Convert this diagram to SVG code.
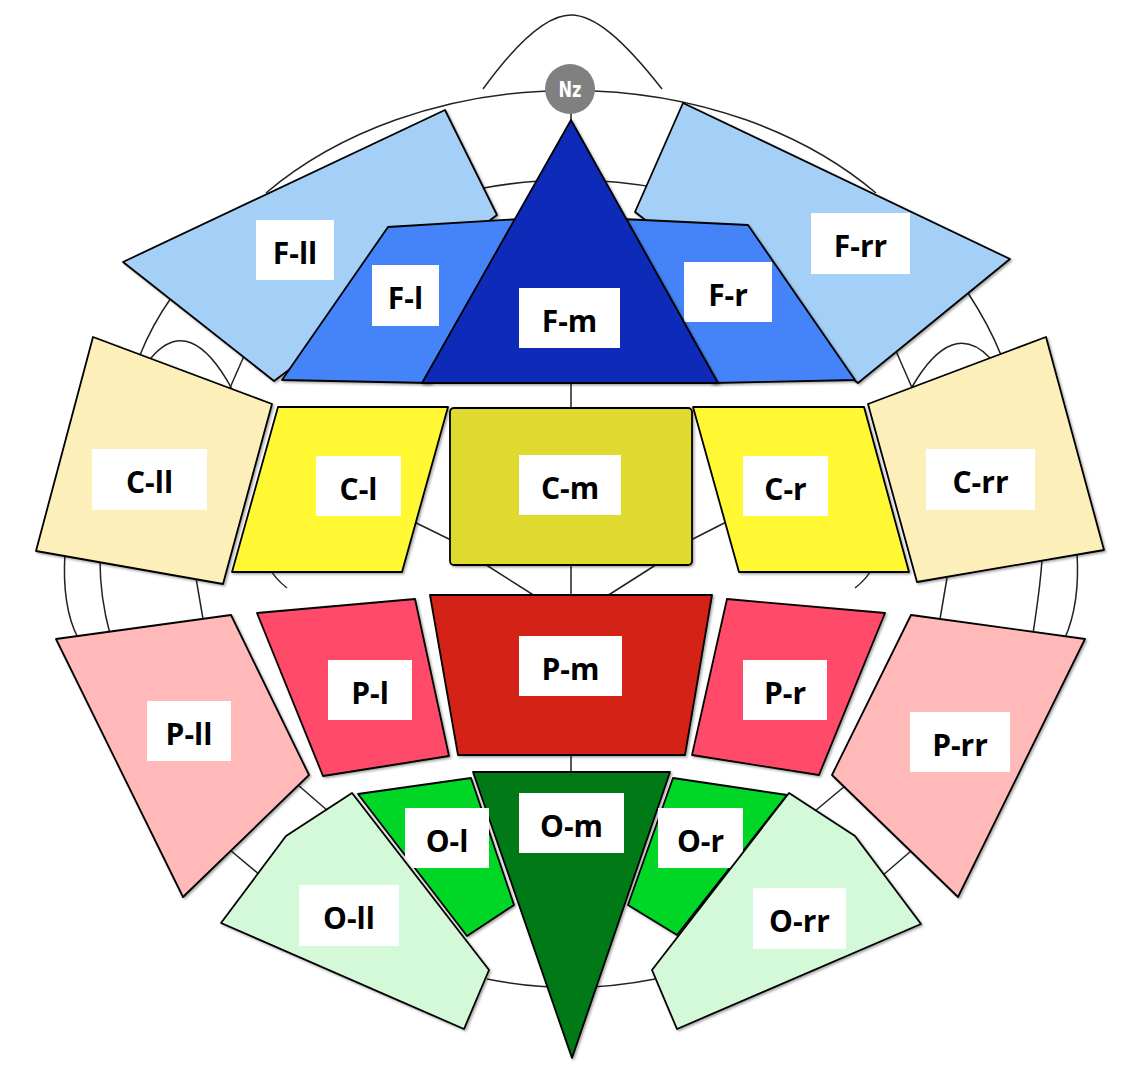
<svg xmlns="http://www.w3.org/2000/svg" width="1122" height="1073" viewBox="0 0 1122 1073">
<defs>
<filter id="sh" x="-5%" y="-5%" width="112%" height="112%">
<feDropShadow dx="1.5" dy="1.5" stdDeviation="1" flood-color="#000" flood-opacity="0.35"/>
</filter>
<style>
.ln{fill:none;stroke:#222;stroke-width:1.5}
.sh{stroke:#000;stroke-width:1.8;stroke-linejoin:round;filter:url(#sh)}
.lb{fill:#fff}
.tx{font-family:"Open Sans","Liberation Sans",sans-serif;font-weight:bold;font-size:30px;fill:#000;text-anchor:middle}
.fll{fill:#A4D0F7}.fl{fill:#4584F8}.fm{fill:#0B2BB8}
.cll{fill:#FCEFB9}.cl{fill:#FFF833}.cm{fill:#E0DA2E}
.pll{fill:#FFB9B9}.pl{fill:#FF4C69}.pm{fill:#D42317}
.oll{fill:#D4F9D8}.ol{fill:#00D627}.om{fill:#007A16}
</style>
</defs>
<rect width="1122" height="1073" fill="#fff"/>
<g id="head-outline">
<path class="ln" d="M483,89 C520,38 548,15 571,15 C594,15 622,38 662,89"/>
<path class="ln" d="M266,193 A405,300 0 0 1 876,193"/>
<path class="ln" d="M478,189 Q571,171 664,189"/>
<path class="ln" d="M571,110 V1000"/>
<path class="ln" d="M140,355 Q152,325 171,298"/>
<path class="ln" d="M1001,355 Q989,325 968,293"/>
<path class="ln" d="M229,390 L244,356"/>
<path class="ln" d="M913,390 L896,351"/>
<path class="ln" d="M151,358 Q190,312 232,389"/>
<path class="ln" d="M912,387 Q952,318 990,358"/>
<path class="ln" d="M400,515 L455,542"/>
<path class="ln" d="M687,542 L740,515"/>
<path class="ln" d="M480,561 L535,596"/>
<path class="ln" d="M662,561 L607,596"/>
<path class="ln" d="M266,563 Q275,579 287,588"/>
<path class="ln" d="M876,563 Q867,579 855,588"/>
<path class="ln" d="M65,553 C63,585 66,615 78,638"/>
<path class="ln" d="M100,560 C100,590 104,612 110,634"/>
<path class="ln" d="M196,578 C199,595 201,607 203,619"/>
<path class="ln" d="M1077,553 C1079,585 1075,615 1065,638"/>
<path class="ln" d="M1042,560 C1040,590 1036,612 1033,634"/>
<path class="ln" d="M947,578 C944,595 942,607 940,619"/>
<path class="ln" d="M298,785 L328,811"/>
<path class="ln" d="M230,850 L260,875"/>
<path class="ln" d="M845,786 L815,811"/>
<path class="ln" d="M911,851 L882,876"/>
<path class="ln" d="M487,979 Q571,996 655,979"/>
</g>
<g id="Nz">
<circle cx="570" cy="89" r="25" fill="#808080"/>
<text x="570" y="97" font-family="DejaVu Sans Condensed,DejaVu Sans,sans-serif" font-weight="bold" font-size="22" fill="#fff" text-anchor="middle" textLength="23" lengthAdjust="spacingAndGlyphs">Nz</text>
</g>
<g id="F-ll"><polygon class="sh fll" points="123,262 445,110 497,215 274,381"/><rect class="lb" x="256" y="220" width="78" height="60"/><text class="tx" x="295" y="264">F-ll</text></g>
<g id="F-rr"><polygon class="sh fll" points="635,212 683,103 1010,259 858,383"/><rect class="lb" x="811" y="213" width="99" height="61"/><text class="tx" x="860.5" y="257">F-rr</text></g>
<g id="F-l"><polygon class="sh fl" points="388,227 520,219 430,383 282,380"/><rect class="lb" x="372" y="265" width="67" height="61"/><text class="tx" x="405.5" y="309">F-l</text></g>
<g id="F-r"><polygon class="sh fl" points="622,219 748,225 855,380 712,383"/><rect class="lb" x="684" y="262" width="88" height="60"/><text class="tx" x="728" y="306">F-r</text></g>
<g id="F-m"><polygon class="sh fm" points="571,120 718,383 422,383"/><rect class="lb" x="519" y="288" width="101" height="60"/><text class="tx" x="569.5" y="332">F-m</text></g>
<g id="C-ll"><polygon class="sh cll" points="93,337 272,404 223,584 36,551"/><rect class="lb" x="92" y="449" width="115" height="61"/><text class="tx" x="149.5" y="493">C-ll</text></g>
<g id="C-rr"><polygon class="sh cll" points="868,404 1046,337 1104,550 917,582"/><rect class="lb" x="926" y="449" width="109" height="61"/><text class="tx" x="980.5" y="493">C-rr</text></g>
<g id="C-l"><polygon class="sh cl" points="278,407 448,407 402,572 232,572"/><rect class="lb" x="316" y="456" width="85" height="60"/><text class="tx" x="358.5" y="500">C-l</text></g>
<g id="C-r"><polygon class="sh cl" points="693,407 864,407 909,572 739,572"/><rect class="lb" x="743" y="456" width="85" height="60"/><text class="tx" x="785.5" y="500">C-r</text></g>
<g id="C-m"><rect class="sh cm" x="450" y="408" width="242" height="157" rx="4"/><rect class="lb" x="519" y="455" width="102" height="60"/><text class="tx" x="570" y="499">C-m</text></g>
<g id="P-ll"><polygon class="sh pll" points="56,639 231,615 309,775 183,897"/><rect class="lb" x="147" y="701" width="84" height="60"/><text class="tx" x="189" y="745">P-ll</text></g>
<g id="P-rr"><polygon class="sh pll" points="911,615 1085,639 958,897 832,775"/><rect class="lb" x="910" y="712" width="100" height="60"/><text class="tx" x="960" y="756">P-rr</text></g>
<g id="P-l"><polygon class="sh pl" points="257,613 415,599 449,756 323,776"/><rect class="lb" x="328" y="660" width="84" height="60"/><text class="tx" x="370" y="704">P-l</text></g>
<g id="P-r"><polygon class="sh pl" points="727,599 885,613 819,775 692,755"/><rect class="lb" x="743" y="660" width="84" height="60"/><text class="tx" x="785" y="704">P-r</text></g>
<g id="P-m"><polygon class="sh pm" points="430,595 712,595 685,755 458,755"/><rect class="lb" x="519" y="636" width="103" height="60"/><text class="tx" x="570.5" y="680">P-m</text></g>
<g id="O-m"><polygon class="sh om" points="473,772 670,772 572,1058"/><rect class="lb" x="519" y="793" width="105" height="60"/><text class="tx" x="571.5" y="837">O-m</text></g>
<g id="O-l"><polygon class="sh ol" points="358,794 471,778 514,905 467,936"/><rect class="lb" x="405" y="808" width="84" height="60"/><text class="tx" x="447" y="852">O-l</text></g>
<g id="O-r"><polygon class="sh ol" points="673,778 787,795 677,935 628,905"/><rect class="lb" x="658" y="808" width="85" height="60"/><text class="tx" x="700.5" y="852">O-r</text></g>
<g id="O-ll"><polygon class="sh oll" points="352,793 489,970 464,1029 221,923 286,836"/><rect class="lb" x="299" y="885" width="100" height="61"/><text class="tx" x="349" y="929">O-ll</text></g>
<g id="O-rr"><polygon class="sh oll" points="789,793 855,836 921,924 677,1029 652,970"/><rect class="lb" x="753" y="888" width="93" height="61"/><text class="tx" x="799.5" y="932">O-rr</text></g>
</svg>
